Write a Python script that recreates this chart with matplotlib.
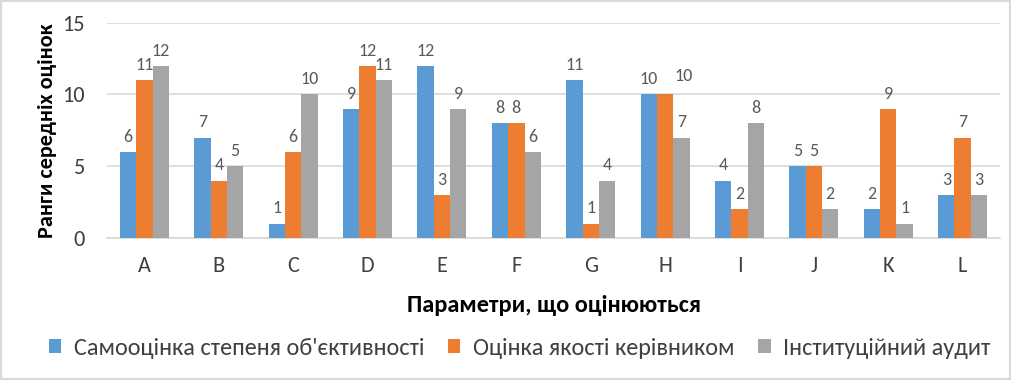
import matplotlib.pyplot as plt
import numpy as np

plt.rcParams['font.family'] = ['Carlito', 'DejaVu Sans']

categories = ["A", "B", "C", "D", "E", "F", "G", "H", "I", "J", "K", "L"]
self_eval = [6, 7, 1, 9, 12, 8, 11, 10, 4, 5, 2, 3]
manager_eval = [11, 4, 6, 12, 3, 8, 1, 10, 2, 5, 9, 7]
audit = [12, 5, 10, 11, 9, 6, 4, 7, 8, 2, 1, 3]

series = [
    ("Самооцінка степеня об'єктивності", self_eval, "#5B9BD5"),
    ("Оцінка якості керівником", manager_eval, "#ED7D31"),
    ("Інституційний аудит", audit, "#A5A5A5"),
]

fig = plt.figure(figsize=(10.11, 3.8), dpi=100)
ax = fig.add_axes([0.106, 0.374, 0.883, 0.566])

x = np.arange(len(categories))
w = 0.22
prev = None
for i, (label, vals, col) in enumerate(series):
    pos = x + (i - 1) * w
    bars = ax.bar(pos, vals, w, color=col, label=label, zorder=3)
    for k, (b, v) in enumerate(zip(bars, vals)):
        dx, dy = 0, 0
        # Excel nudges two-digit labels that would collide with the neighbour
        if prev is not None and prev[k] == v and v >= 10:
            dx, dy = w * 1.1, 0.2
        ax.text(b.get_x() + b.get_width() / 2 + dx, v + 0.5 + dy, str(v),
                ha="center", va="bottom", fontsize=13, color="#595959")
    prev = vals

ax.set_ylim(0, 15)
ax.set_yticks([0, 5, 10, 15])
ax.set_xlim(-0.5, len(categories) - 0.5)
ax.set_xticks(x)
ax.set_xticklabels(categories)
ax.yaxis.grid(True, color="#D9D9D9", linewidth=1.2, zorder=0)
ax.tick_params(axis="both", length=0, labelsize=16, colors="#404040")
ax.tick_params(axis="x", pad=13)
ax.tick_params(axis="y", pad=16)
for s in ["top", "right", "left"]:
    ax.spines[s].set_visible(False)
ax.spines["bottom"].set_color("#D9D9D9")
ax.spines["bottom"].set_linewidth(1.2)

ax.set_ylabel("Ранги середніх оцінок", fontsize=16, fontweight="bold", labelpad=4)
ax.set_xlabel("Параметри, що оцінюються", fontsize=17.5, fontweight="bold", labelpad=14)

fig.legend(loc="center", bbox_to_anchor=(0.514, 0.084), ncol=3, frameon=False,
           fontsize=17.5, handlelength=0.5, handleheight=0.5, handletextpad=0.5,
           columnspacing=1.0, labelcolor="#404040")

fig.patches.append(plt.Rectangle((0, 0), 1, 1, transform=fig.transFigure,
                                 fill=False, edgecolor="#D9D9D9", linewidth=3))

fig.savefig("out.png", dpi=100)
